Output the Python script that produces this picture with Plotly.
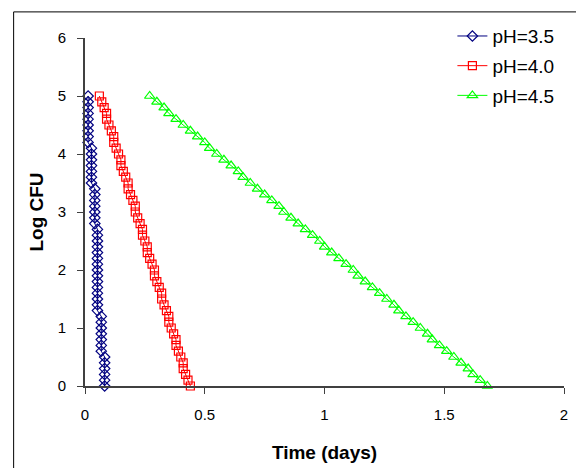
import plotly.graph_objects as go

log_cfu = [round(5.0 - 0.1 * i, 1) for i in range(51)]

time_ph35 = [0.013] * 9 + [0.027] * 7 + [0.041] * 7 + [0.052] * 15 + [0.068] * 7 + [0.082] * 6

time_ph40 = [0.06, 0.07, 0.08, 0.09, 0.09, 0.10, 0.11, 0.12, 0.12, 0.13,
             0.14, 0.15, 0.15, 0.16, 0.17, 0.18, 0.18, 0.19, 0.20, 0.21,
             0.21, 0.22, 0.23, 0.24, 0.24, 0.25, 0.26, 0.26, 0.27, 0.28,
             0.29, 0.29, 0.30, 0.31, 0.32, 0.32, 0.33, 0.34, 0.35, 0.35,
             0.36, 0.37, 0.38, 0.38, 0.39, 0.40, 0.41, 0.41, 0.42, 0.43,
             0.44]

time_ph45 = [0.27, 0.30, 0.33, 0.35, 0.38, 0.41, 0.44, 0.47, 0.50, 0.52,
             0.55, 0.58, 0.61, 0.64, 0.66, 0.69, 0.72, 0.75, 0.78, 0.81,
             0.83, 0.86, 0.89, 0.92, 0.95, 0.98, 1.00, 1.03, 1.06, 1.09,
             1.12, 1.14, 1.17, 1.20, 1.23, 1.26, 1.29, 1.31, 1.34, 1.37,
             1.40, 1.43, 1.45, 1.48, 1.51, 1.54, 1.57, 1.60, 1.62, 1.65,
             1.68]

series_names = ["pH=3.5", "pH=4.0", "pH=4.5"]
x_ticks = [0, 0.5, 1, 1.5, 2]
x_tick_labels = ["0", "0.5", "1", "1.5", "2"]
y_ticks = [0, 1, 2, 3, 4, 5, 6]

FONT = "Liberation Sans, Arial, sans-serif"

fig = go.Figure()
fig.add_trace(go.Scatter(x=time_ph35, y=log_cfu, name=series_names[0], mode="lines+markers",
                         legendgroup="a",
                         line=dict(color="#000080", width=1),
                         marker=dict(symbol="diamond-open", size=8, color="#000080", line=dict(width=1.2)),
                         cliponaxis=False))
fig.add_trace(go.Scatter(x=time_ph40, y=log_cfu, name=series_names[1], mode="lines+markers",
                         legendgroup="b",
                         line=dict(color="#FF0000", width=1),
                         marker=dict(symbol="square-open", size=8, color="#FF0000", line=dict(width=1.2)),
                         cliponaxis=False))
fig.add_trace(go.Scatter(x=time_ph45, y=log_cfu, name=series_names[2], mode="lines+markers",
                         legendgroup="c",
                         line=dict(color="#00FF00", width=1),
                         marker=dict(symbol="triangle-up-open", size=9, color="#00FF00", line=dict(width=1.2)),
                         cliponaxis=False))

fig.update_layout(
    width=576, height=468,
    margin=dict(l=85, r=8, t=38, b=82),
    paper_bgcolor="white", plot_bgcolor="white",
    font=dict(family=FONT, size=15, color="black"),
    showlegend=True,
    legend=dict(x=0.767, y=1.06, xanchor="left", yanchor="top",
                font=dict(size=19, family=FONT), bgcolor="rgba(0,0,0,0)",
                tracegroupgap=2, itemwidth=30),
    xaxis=dict(range=[0, 2], tickvals=x_ticks, ticktext=x_tick_labels,
               showgrid=False, zeroline=False, showline=True, linecolor="#404040", linewidth=2,
               ticks="outside", ticklen=6, tickcolor="#404040", tickwidth=1,
               ticklabelstandoff=8,
               title=dict(text="<b>Time (days)</b>", font=dict(size=19, family=FONT), standoff=24)),
    yaxis=dict(range=[0, 6], tickvals=y_ticks,
               showgrid=False, zeroline=False, showline=True, linecolor="#404040", linewidth=2,
               ticks="outside", ticklen=6, tickcolor="#404040", tickwidth=1,
               ticklabelstandoff=8,
               title=dict(text="<b>Log CFU</b>", font=dict(size=19, family=FONT), standoff=9)),
)

# outer chart-area border (top and left edges visible)
fig.add_shape(type="line", xref="paper", yref="paper", x0=-0.149, x1=1.05, y0=1.075, y1=1.075,
              line=dict(color="black", width=1))
fig.add_shape(type="line", xref="paper", yref="paper", x0=-0.149, x1=-0.149, y0=-0.3, y1=1.075,
              line=dict(color="black", width=1))

fig.write_html("out.html")
